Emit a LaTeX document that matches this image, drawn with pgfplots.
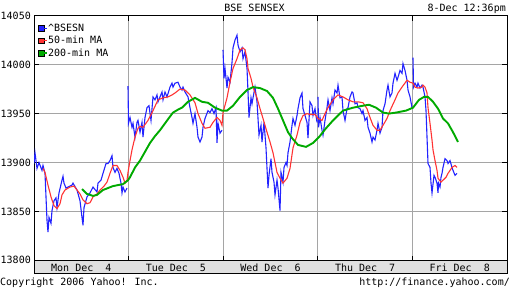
\documentclass[border=0pt]{standalone}
\usepackage{fontspec}
\setmainfont{DejaVu Sans Mono}
\usepackage{pgfplots}
\usepackage{pgfplotstable}
\pgfplotsset{compat=1.18}
\definecolor{ybl}{RGB}{34,34,255}
\definecolor{yrd}{RGB}{255,51,51}
\definecolor{ygr}{RGB}{0,170,0}
\definecolor{ygrid}{RGB}{165,165,165}
\definecolor{yband}{RGB}{224,224,224}

\pgfplotstableread{
x y
0 13899
1 13910
3 13894
5 13900
8 13892
9 13897
11 13889
13 13841
14 13829
15 13844
17 13838
18 13851
20 13861
22 13864
23 13854
25 13869
28 13882
29 13886
30 13879
32 13874
34 13875
38 13877
39 13879
43 13872
46 13861
48 13844
49 13836
50 13854
53 13865
56 13869
59 13875
63 13870
64 13879
67 13882
69 13889
72 13899
74 13899
76 13902
78 13907
79 13895
81 13890
83 13894
85 13889
87 13879
88 13869
89 13875
91 13870
93 13874
nan nan
94 13978
94.5 13940
96 13946
98 13936
99 13940
101 13926
103 13941
104 13943
106 13931
108 13941
109 13926
111 13946
113 13956
115 13958
117 13943
119 13967
121 13964
123 13969
124 13962
128 13972
129 13964
131 13972
133 13967
136 13977
138 13981
139 13977
141 13981
144 13982
146 13977
148 13974
149 13977
151 13972
154 13967
156 13956
158 13946
159 13940
161 13950
163 13936
164 13926
166 13921
168 13926
169 13936
171 13945
174 13953
176 13951
178 13955
180 13950
182 13956
183 13920
184 13940
186 13930
188 13933
nan nan
189 14015
190 13986
191 13996
193 13976
194 13987
196 13982
198 14002
199 14017
201 14025
203 14030
204 14020
206 14013
208 14017
209 14006
211 14013
213 13996
214 13972
215 13946
217 13966
218 13960
219 13966
221 13977
223 13962
224 13945
225 13928
227 13938
228 13921
230 13941
232 13915
233 13894
234 13874
235 13887
237 13904
238 13890
240 13880
241 13867
243 13882
244 13874
246 13851
247 13890
249 13880
250 13895
252 13900
253 13897
254 13910
256 13921
258 13938
259 13945
261 13938
263 13948
264 13955
266 13966
268 13971
269 13955
271 13948
273 13941
274 13925
276 13962
278 13958
279 13948
281 13955
283 13941
nan nan
284 13967
284.5 13936
286 13946
288 13933
289 13928
291 13943
293 13956
294 13964
296 13953
298 13966
299 13960
301 13974
303 13971
304 13979
306 13966
308 13967
309 13953
311 13943
313 13955
314 13956
316 13967
318 13972
319 13971
321 13960
323 13961
324 13956
326 13955
328 13950
329 13953
331 13943
333 13946
334 13936
336 13930
338 13921
339 13926
341 13923
343 13933
344 13940
346 13930
348 13936
349 13953
351 13960
353 13974
354 13979
356 13967
358 13971
359 13981
361 13991
363 13984
364 13987
366 13994
368 13991
369 14001
371 13994
373 13984
374 13974
376 13967
378 13956
nan nan
379 14007
379.5 13977
381 13981
383 13977
384 13981
386 13976
388 13979
389 13977
391 13967
392 13953
393 13926
394 13899
396 13895
397 13879
398 13869
400 13887
401 13885
403 13879
404 13869
404.5 13879
406 13875
407 13885
408 13889
409 13895
411 13904
413 13902
414 13899
416 13902
418 13895
419 13892
421 13887
423 13889
}\bsesn

\pgfplotstableread{
x y
9 13894
11 13890
14 13877
17 13865
20 13856
23 13853
26 13858
28 13867
31 13872
36 13875
40 13876
43 13872
46 13868
49 13862
53 13858
56 13859
59 13865
63 13868
66 13872
70 13876
73 13880
76 13889
79 13897
83 13897
86 13892
89 13885
91 13879
93 13882
94 13890
96 13902
98 13913
101 13926
104 13935
106 13937
109 13936
114 13943
119 13953
124 13964
129 13966
134 13967
138 13969
141 13971
146 13975
151 13974
156 13969
161 13961
164 13950
168 13940
171 13935
176 13936
179 13941
183 13946
186 13943
188 13938
189 13951
193 13966
196 13982
199 13996
203 14006
206 14015
209 14017
211 14015
213 14006
214 13996
217 13986
219 13977
223 13966
226 13955
229 13945
233 13931
236 13921
239 13910
243 13890
246 13884
249 13879
253 13884
256 13894
259 13915
263 13928
266 13941
269 13948
273 13950
276 13949
281 13949
284 13945
288 13943
291 13950
294 13956
299 13964
304 13969
309 13967
314 13964
319 13962
324 13962
329 13961
333 13955
336 13946
339 13938
343 13933
346 13933
349 13938
353 13945
356 13953
361 13964
364 13971
368 13977
373 13984
376 13982
379 13981
381 13977
384 13976
388 13977
389 13979
391 13977
393 13971
394 13956
396 13940
398 13923
399 13913
401 13902
403 13892
404 13884
407 13880
409 13882
412 13885
414 13889
418 13895
421 13897
423 13895
}\mafifty

\pgfplotstableread{
x y
48 13873
53 13868
59 13866
63 13867
69 13872
74 13874
79 13876
84 13877
89 13878
94 13882
96 13885
101 13895
106 13902
111 13911
116 13920
121 13927
126 13933
131 13940
136 13947
139 13951
144 13954
148 13956
154 13962
161 13966
168 13962
174 13961
181 13956
188 13953
193 13953
199 13958
206 13967
213 13974
219 13977
226 13976
233 13973
239 13966
244 13955
249 13943
254 13931
258 13925
264 13918
272 13916
279 13920
285 13926
292 13935
299 13943
309 13953
319 13956
329 13958
335 13959
342 13956
349 13951
355 13950
362 13951
372 13953
379 13956
385 13964
390 13967
394 13967
399 13962
404 13955
409 13945
414 13940
419 13931
424 13921
}\matwohundred

\pgfplotsset{sq/.style={legend image code/.code={%
  \draw[draw=black, line width=0.7bp, fill=#1] (0bp,-2.8bp) rectangle (5.6bp,2.8bp);
  \path (0bp,0bp) -- (8.3bp,0bp);}}}

\begin{document}
\begin{tikzpicture}[x=1bp, y=1bp, font=\fontsize{10bp}{12bp}\selectfont]
\useasboundingbox (0,0) rectangle (512,288);
\filldraw[fill=yband, draw=black, line width=1bp] (34,15) rectangle (507,28);
\begin{axis}[
  name=main, at={(34,28)}, anchor=south west,
  scale only axis, width=473bp, height=245bp,
  xmin=0, xmax=473, ymin=13800, ymax=14050,
  scaled y ticks=false, scaled x ticks=false,
  unbounded coords=jump,
  axis line style={black, line width=1bp},
  tick align=inside, tick pos=both,
  major tick length=5bp,
  every tick/.style={black, line width=1bp},
  grid=major, major grid style={ygrid, line width=0.9bp},
  xtick={94.6,189.2,283.8,378.4}, xticklabels={,,,},
  extra x ticks={47.3,141.9,236.5,331.1,425.7},
  extra x tick labels={Mon Dec~~4,Tue Dec~~5,Wed Dec~~6,Thu Dec~~7,Fri Dec~~8},
  extra x tick style={grid=none, major tick length=0pt},
  xticklabel style={anchor=north, inner sep=0pt, text height=7.3bp, yshift=-3.3bp},
  ytick={13800,13850,13900,13950,14000,14050},
  yticklabels={\raisebox{2.5bp}{13800},13850,13900,13950,14000,\raisebox{-5bp}{14050}},
  yticklabel pos=left,
  yticklabel style={anchor=east, inner sep=0pt, xshift=-3bp},
  legend style={at={(0,1)}, anchor=north west, xshift=3.7bp, yshift=-8bp,
    draw=none, fill=none, inner sep=0pt, row sep=3.2bp,
    nodes={inner sep=0pt, text height=7.3bp, text depth=2bp, anchor=west}},
  legend cell align=left,
]
\addplot[ybl, line width=1.1bp, sq=ybl] table {\bsesn};
\addlegendentry{\textasciicircum BSESN}
\addplot[yrd, line width=1.1bp, sq=yrd] table {\mafifty};
\addlegendentry{50-min MA}
\addplot[ygr, line width=1.9bp, sq=ygr] table {\matwohundred};
\addlegendentry{200-min MA}
\end{axis}
\node[anchor=base, inner sep=0pt] at (254.5,277) {BSE SENSEX};
\node[anchor=base east, inner sep=0pt] at (506,277) {8-Dec 12:36pm};
\node[anchor=base west, inner sep=0pt] at (0,2.3) {Copyright 2006 Yahoo! Inc.};
\node[anchor=base east, inner sep=0pt] at (510,2.3) {http://finance.yahoo.com/};
\end{tikzpicture}
\end{document}
